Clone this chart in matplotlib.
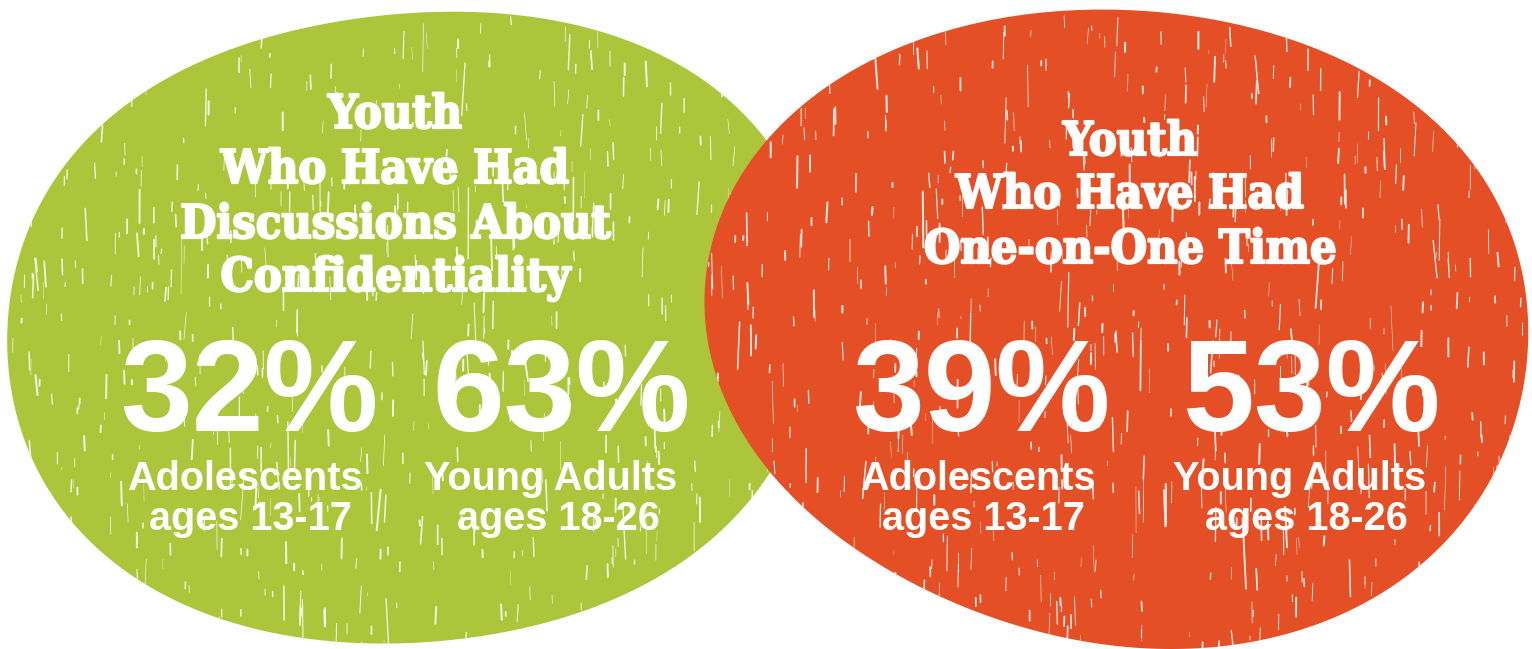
import numpy as np
import matplotlib
matplotlib.use("Agg")
import matplotlib.pyplot as plt
import matplotlib.patheffects as pe
from matplotlib.patches import Polygon
from matplotlib.collections import LineCollection

# --- content -------------------------------------------------------------
titles = [
    ["Youth", "Who Have Had", "Discussions About", "Confidentiality"],
    ["Youth", "Who Have Had", "One-on-One Time"],
]
values = [[32, 63], [39, 53]]
groups = ["Adolescents", "Young Adults"]
ages = ["ages 13-17", "ages 18-26"]

green = "#ACC53A"
red = "#E44F26"

# blob outlines (pixel space, y down)
green_x = [423, 511, 678, 771, 805, 815, 800, 771, 720, 644, 511, 433, 333, 233, 160, 110, 67, 25, 8, 32, 120, 233]
green_y = [10, 15, 70, 133, 220, 310, 410, 483, 535, 573, 636, 646, 636, 620, 593, 566, 516, 432, 326, 216, 110, 50]
red_x = [1114, 1234, 1354, 1454, 1498, 1528, 1521, 1511, 1421, 1321, 1221, 1121, 1022, 878, 811, 771, 738, 714, 709, 721, 771, 844, 1022]
red_y = [10, 25, 65, 135, 216, 316, 409, 433, 566, 620, 646, 646, 633, 553, 513, 483, 432, 366, 299, 216, 133, 75, 15]

W, H = 1532, 649


def smooth_blob(xs, ys, k=4, n=400):
    # fit a low-order polar fourier curve through the traced points
    xs = np.asarray(xs, float)
    ys = np.asarray(ys, float)
    cx = (xs.min() + xs.max()) / 2
    cy = (ys.min() + ys.max()) / 2
    sx = (xs.max() - xs.min()) / 2
    sy = (ys.max() - ys.min()) / 2
    u, v = (xs - cx) / sx, (ys - cy) / sy
    th = np.arctan2(v, u)
    r = np.hypot(u, v)

    def basis(t):
        cols = [np.ones_like(t)]
        for i in range(1, k + 1):
            cols += [np.cos(i * t), np.sin(i * t)]
        return np.column_stack(cols)

    coef, *_ = np.linalg.lstsq(basis(th), r, rcond=None)
    t = np.linspace(-np.pi, np.pi, n, endpoint=False)
    rr = basis(t) @ coef
    return np.column_stack([cx + sx * rr * np.cos(t), cy + sy * rr * np.sin(t)])


def scratches(ax, patch, pts, n, rng, z):
    # thin white vertical streaks, clipped to the blob
    x0 = rng.uniform(pts[:, 0].min(), pts[:, 0].max(), n)
    y0 = rng.uniform(pts[:, 1].min(), pts[:, 1].max(), n)
    ln = rng.gamma(1.6, 7.0, n) + 3
    dx = ln * rng.normal(0, 0.04, n)
    segs = np.stack([np.column_stack([x0, y0]), np.column_stack([x0 + dx, y0 + ln])], axis=1)
    lc = LineCollection(segs, colors="white", linewidths=rng.uniform(0.3, 1.5, n),
                        alpha=0.85, zorder=z, capstyle="round")
    lc.set_clip_path(patch)
    ax.add_collection(lc)


fig = plt.figure(figsize=(W / 100, H / 100), dpi=100)
ax = fig.add_axes([0, 0, 1, 1])
ax.set_xlim(0, W)
ax.set_ylim(H, 0)
ax.axis("off")

rng = np.random.default_rng(11)

g_pts = smooth_blob(green_x, green_y)
gp = Polygon(g_pts, closed=True, fc=green, ec="none", zorder=1)
ax.add_patch(gp)
scratches(ax, gp, g_pts, 650, rng, 2)

r_pts = smooth_blob(red_x, red_y)
rp = Polygon(r_pts, closed=True, fc=red, ec="none", zorder=3)
ax.add_patch(rp)
scratches(ax, rp, r_pts, 700, rng, 4)

# --- text ----------------------------------------------------------------
thick = [pe.withStroke(linewidth=1.6, foreground="white")]
title_font = dict(family="DejaVu Serif", weight="bold", fontstretch="condensed", color="white")
num_font = dict(family="Liberation Sans", weight="bold", color="white")

title_cx = [395, 1130]
title_base = [[128, 183, 238, 291], [155, 208, 263]]

for k in range(2):
    for line, yb in zip(titles[k], title_base[k]):
        ax.text(title_cx[k], yb, line, ha="center", va="baseline", fontsize=33.5,
                zorder=10, path_effects=thick, **title_font)

num_cx = [[249, 561], [981, 1312]]
grp_cx = [[245, 551], [978, 1300]]
age_cx = [[250, 558], [983, 1306]]

for k in range(2):
    for j in range(2):
        ax.text(num_cx[k][j], 431, f"{values[k][j]}%", ha="center", va="baseline",
                fontsize=93, zorder=10, **num_font)
        ax.text(grp_cx[k][j], 490, groups[j], ha="center", va="baseline",
                fontsize=28.5, zorder=10, **num_font)
        ax.text(age_cx[k][j], 530, ages[j], ha="center", va="baseline",
                fontsize=28.5, zorder=10, **num_font)

fig.savefig("out.png", dpi=100, facecolor="white")
